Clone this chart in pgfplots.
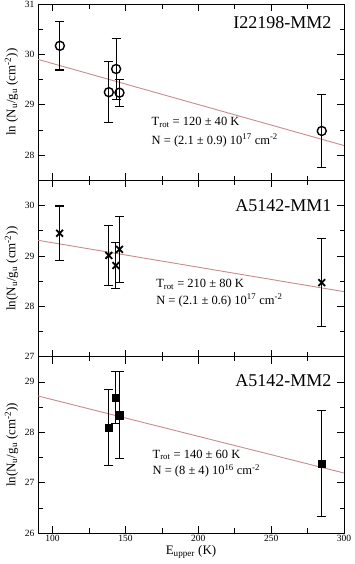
\documentclass[border=0pt]{standalone}
\usepackage{fontspec}
\setmainfont{Liberation Serif}
\usepackage{pgfplots}
\pgfplotsset{compat=1.18}
\usepgfplotslibrary{groupplots}
\definecolor{fitline}{RGB}{198,140,140}

\pgfplotstableread{
x y e
105.0 30.17 0.48
138.6 29.25 0.61
143.6 29.71 0.60
145.9 29.24 0.27
284.7 28.48 0.73
}\mmtwoI
\pgfplotstableread{
x y e
104.8 29.45 0.54
138.6 29.01 0.59
143.4 28.81 0.46
145.9 29.13 0.65
284.7 28.47 0.88
}\mmoneA
\pgfplotstableread{
x y e
138.6 28.09 0.75
143.2 28.69 0.51
146.1 28.34 0.87
284.7 27.38 1.05
}\mmtwoA

\begin{document}
\begin{tikzpicture}
\begin{groupplot}[
  group style={group size=1 by 3, vertical sep=0pt, xticklabels at=edge bottom},
  width=306pt, height=176.3pt, scale only axis,
  xmin=90, xmax=300,
  xtick={100,150,200,250,300}, minor xtick={125,175,225,275},
  ytick distance=1,
  tick align=inside, major tick length=7pt, minor tick length=4.5pt,
  tick style={black, line width=0.6pt},
  axis line style={line width=0.8pt},
  /pgf/number format/assume math mode=true,
  ticklabel style={font=\fontsize{9.5}{10}\selectfont},
  xticklabel style={yshift=1pt},
  label style={font=\fontsize{13}{15}\selectfont},
  xlabel style={yshift=3pt},
  error bars/y dir=both, error bars/y explicit,
  error bars/error mark options={rotate=90, mark size=4.5pt, line width=1.1pt, black},
  error bars/error bar style={line width=1.1pt, black},
  every node/.append style={text=black},
]
\nextgroupplot[ymin=27.5, ymax=31, minor ytick={27.5,28.5,29.5,30.5},
  ylabel={ln (N\textsubscript{u}/g\textsubscript{u} (cm\textsuperscript{-2}))}]
\addplot[fitline, line width=0.9pt] coordinates {(90,29.90) (300,28.19)};
\addplot[black, only marks, mark=o, mark size=4.5pt, mark options={line width=1.4pt, fill=white}]
  table[x=x, y=y, y error=e] {\mmtwoI};
\node[anchor=east, font=\fontsize{18}{20}\selectfont] at (rel axis cs:0.97,0.896) {I22198-MM2};
\node[anchor=base west, font=\fontsize{12.5}{14}\selectfont] at (rel axis cs:0.36,0.31) {T\textsubscript{rot} = 120 ± 40 K};
\node[anchor=base west, font=\fontsize{12.5}{14}\selectfont] at (rel axis cs:0.36,0.206) {N = (2.1 ± 0.9) 10\textsuperscript{17} cm\textsuperscript{-2}};

\nextgroupplot[ymin=27, ymax=30.5, minor ytick={27.5,28.5,29.5,30.5},
  ylabel={ln(N\textsubscript{u}/g\textsubscript{u} (cm\textsuperscript{-2}))}]
\addplot[fitline, line width=0.9pt] coordinates {(90,29.31) (300,28.29)};
\addplot[black, only marks, mark=x, mark size=4.8pt, mark options={line width=1.8pt}]
  table[x=x, y=y, y error=e] {\mmoneA};
\node[anchor=east, font=\fontsize{18}{20}\selectfont] at (rel axis cs:0.97,0.854) {A5142-MM1};
\node[anchor=base west, font=\fontsize{12.5}{14}\selectfont] at (rel axis cs:0.375,0.391) {T\textsubscript{rot} = 210 ± 80 K};
\node[anchor=base west, font=\fontsize{12.5}{14}\selectfont] at (rel axis cs:0.375,0.297) {N = (2.1 ± 0.6) 10\textsuperscript{17} cm\textsuperscript{-2}};

\nextgroupplot[ymin=26, ymax=29.5, minor ytick={26.5,27.5,28.5},
  ylabel={ln(N\textsubscript{u}/g\textsubscript{u} (cm\textsuperscript{-2}))},
  xlabel={E\textsubscript{upper} (K)}]
\addplot[fitline, line width=0.9pt] coordinates {(90,28.72) (300,27.19)};
\addplot[black, only marks, mark=square*, mark size=3.6pt]
  table[x=x, y=y, y error=e] {\mmtwoA};
\node[anchor=east, font=\fontsize{18}{20}\selectfont] at (rel axis cs:0.97,0.864) {A5142-MM2};
\node[anchor=base west, font=\fontsize{12.5}{14}\selectfont] at (rel axis cs:0.363,0.425) {T\textsubscript{rot} = 140 ± 60 K};
\node[anchor=base west, font=\fontsize{12.5}{14}\selectfont] at (rel axis cs:0.363,0.331) {N = (8 ± 4) 10\textsuperscript{16} cm\textsuperscript{-2}};
\end{groupplot}
\pgfresetboundingbox
\path ([shift={(-38pt,-31pt)}]group c1r3.south west) rectangle ([shift={(10pt,4pt)}]group c1r1.north east);
\end{tikzpicture}
\end{document}
